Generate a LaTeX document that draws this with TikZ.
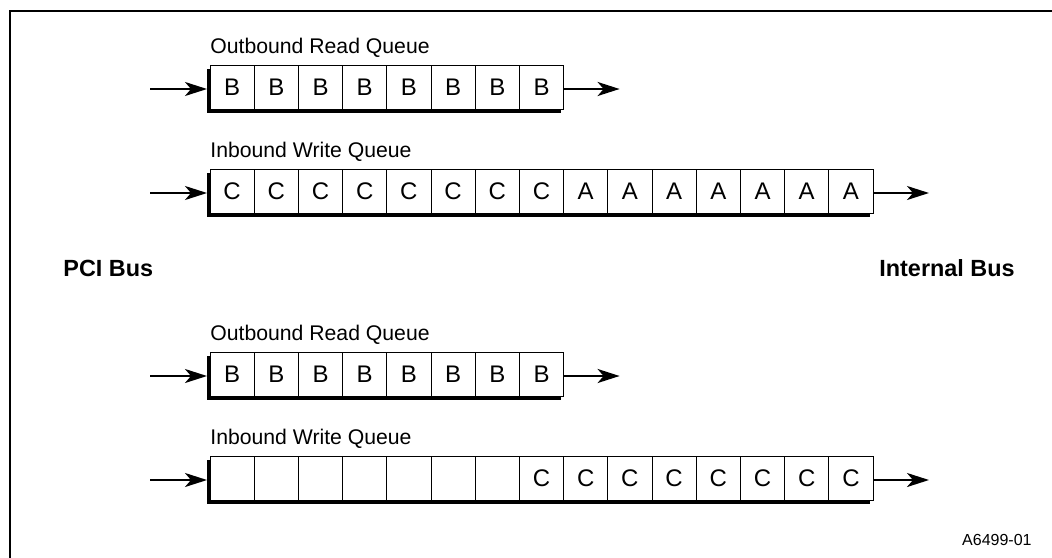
\documentclass[tikz,border=0pt]{standalone}
\usepackage{fontspec}
\setmainfont{Liberation Sans}
\usetikzlibrary{positioning,arrows.meta,backgrounds}

\begin{document}
\begin{tikzpicture}[x=0.5pt, y=-0.5pt,
  cell/.style={rectangle, draw=black, line width=0.5pt, fill=white, minimum width=22.1pt, minimum height=22pt, inner sep=0pt, outer sep=0pt, font=\fontsize{12}{14}\selectfont},
  qlabel/.style={inner sep=0pt, anchor=base west, font=\fontsize{10.6}{12}\selectfont},
  buslabel/.style={inner sep=0pt, font=\bfseries\fontsize{11.7}{14}\selectfont},
  flow/.style={line width=1.1pt, -{Stealth[length=11pt, width=7pt, inset=3pt]}},
  shade/.style={fill=black}]

\useasboundingbox (0,0) rectangle (1052,557);
% frame, only its left and top edges show
\draw[line width=1pt] (10,560) -- (10,11) -- (1055,11);

\foreach \q/\ytop/\ncells/\qname/\cells in {
    1/65/8/Outbound Read Queue/{B,B,B,B,B,B,B,B},
    2/169/15/Inbound Write Queue/{C,C,C,C,C,C,C,C,A,A,A,A,A,A,A},
    3/352/8/Outbound Read Queue/{B,B,B,B,B,B,B,B},
    4/456/15/Inbound Write Queue/{{},{},{},{},{},{},{},C,C,C,C,C,C,C,C}} {
  % cells, left to right
  \foreach \c [count=\i] in \cells {
    \ifnum\i=1
      \node[cell, anchor=north west] (q\q-1) at (210,\ytop) {\c};
    \else
      \pgfmathtruncatemacro\prev{\i-1}
      \node[cell, right=0pt of q\q-\prev] (q\q-\i) {\c};
    \fi
  }
  % shadow under the queue
  \begin{scope}[on background layer]
    \fill[shade] ([xshift=-1.5pt,yshift=-1.75pt]q\q-1.north west) rectangle ([xshift=-1.5pt,yshift=-1.75pt]q\q-\ncells.south east);
  \end{scope}
  \node[qlabel] (q\q-label) at ([yshift=5.85pt]q\q-1.north west) {\qname};

  \coordinate (q\q-in) at ([xshift=-30pt,yshift=-1pt]q\q-1.west);
  \coordinate (q\q-out) at ([xshift=28pt,yshift=-1pt]q\q-\ncells.east);
  \draw[flow] (q\q-in) -- ([xshift=-1.5pt,yshift=-1pt]q\q-1.west);
  \draw[flow] ([yshift=-1pt]q\q-\ncells.east) -- (q\q-out);
}

\node[buslabel, anchor=base west] (pci) at (63,276.7) {PCI Bus};
\node[buslabel, anchor=base east] (internal) at (1015,276.7) {Internal Bus};
\node[inner sep=0pt, anchor=base east, font=\fontsize{8}{10}\selectfont] (figid) at (1032,545) {A6499-01};
\end{tikzpicture}
\end{document}
